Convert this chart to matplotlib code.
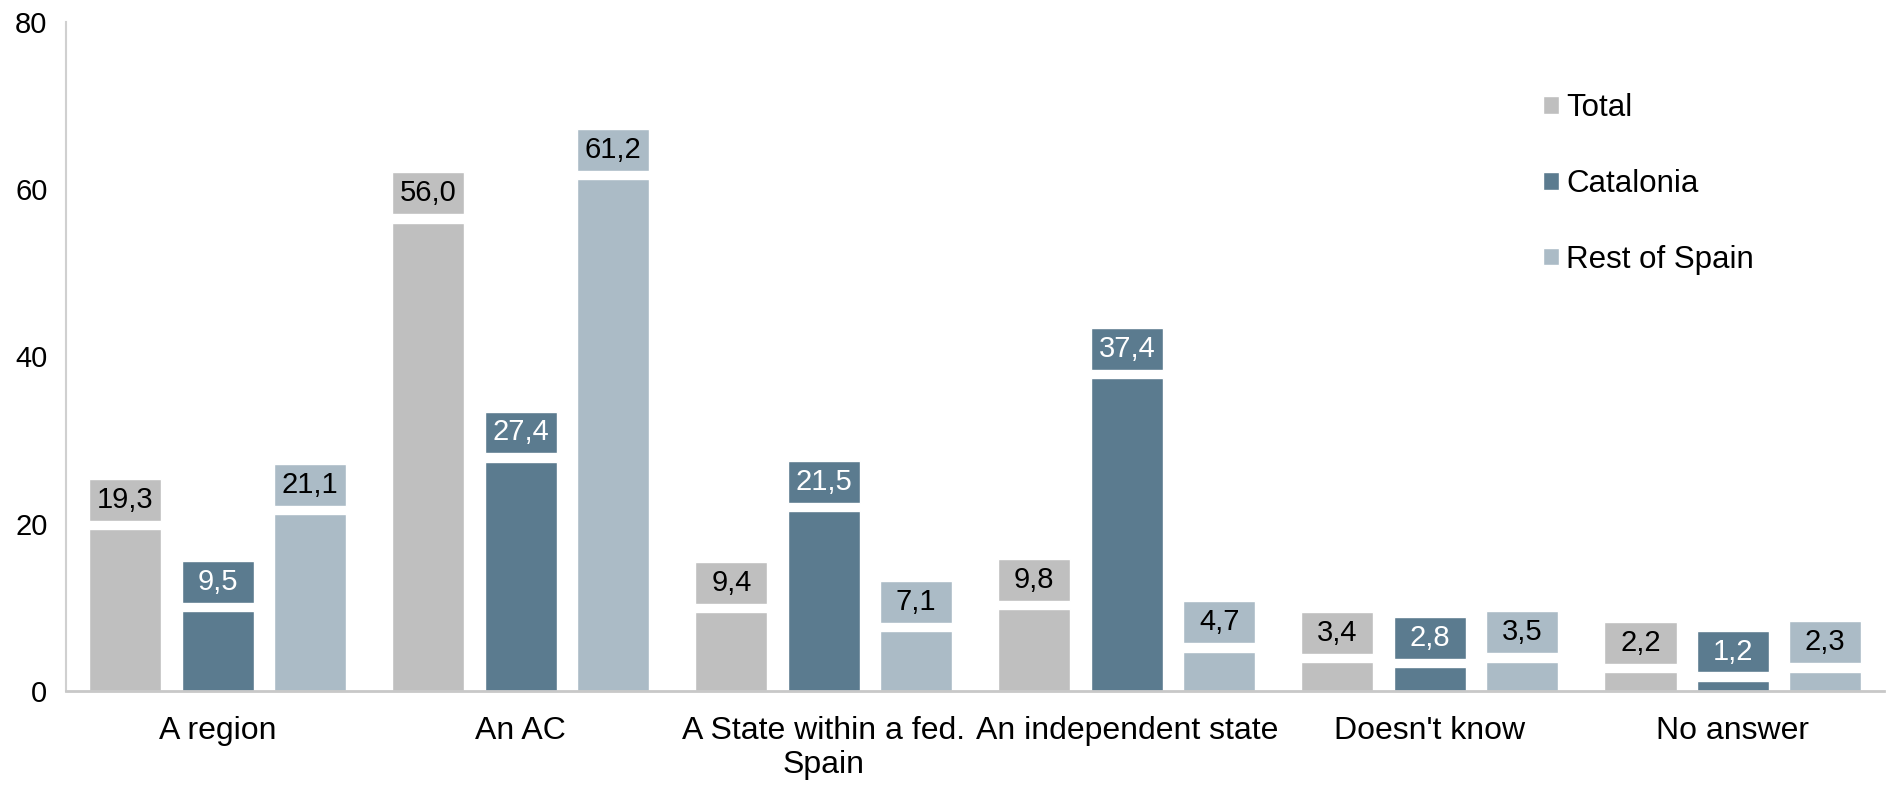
import matplotlib.pyplot as plt
import numpy as np

plt.rcParams['font.family'] = ['Liberation Sans', 'DejaVu Sans']

categories = ['A region', 'An AC', 'A State within a fed.\nSpain',
              'An independent state', "Doesn't know", 'No answer']
series = ['Total', 'Catalonia', 'Rest of Spain']
total = [19.3, 56.0, 9.4, 9.8, 3.4, 2.2]
catalonia = [9.5, 27.4, 21.5, 37.4, 2.8, 1.2]
rest = [21.1, 61.2, 7.1, 4.7, 3.5, 2.3]

colors = ['#BFBFBF', '#5B7B8F', '#ABBBC6']
text_colors = ['black', 'white', 'black']

fig = plt.figure(figsize=(18.91, 7.85), dpi=100)
ax = fig.add_axes([0.035, 0.12, 0.9615, 0.852])

x = np.arange(len(categories))
width = 0.238
step = 0.305
box_gap = 1.0
box_h = 5.0

for i, vals in enumerate([total, catalonia, rest]):
    xs = x + (i - 1) * step
    ax.bar(xs, vals, width, color=colors[i], edgecolor='white', linewidth=1,
           label=series[i], zorder=2)
    # label boxes above bars
    bottoms = np.array(vals) + box_gap
    ax.bar(xs, box_h, width, bottom=bottoms, color=colors[i],
           edgecolor='white', linewidth=1, zorder=2)
    for xx, v, b in zip(xs, vals, bottoms):
        ax.text(xx, b + box_h / 2, ('%.1f' % v).replace('.', ','),
                ha='center', va='center', fontsize=21, color=text_colors[i],
                zorder=3)

ax.set_xlim(-0.5, 5.5)
ax.set_ylim(0, 80)
ax.set_yticks([0, 20, 40, 60, 80])
ax.set_xticks(x)
ax.set_xticklabels(categories)
ax.tick_params(axis='both', length=0)
ax.tick_params(axis='x', pad=18, labelsize=23)
ax.tick_params(axis='y', pad=13.5, labelsize=21)

ax.spines['right'].set_color('none')
ax.spines['top'].set_color('none')
ax.spines['left'].set_color('#D0D0D0')
ax.spines['bottom'].set_color('#C8C8C8')
ax.spines['left'].set_linewidth(1.5)
ax.spines['bottom'].set_linewidth(2)

handles, labels = ax.get_legend_handles_labels()
leg = ax.legend(handles, labels, loc='upper left',
                bbox_to_anchor=(0.816, 0.881), bbox_transform=fig.transFigure,
                frameon=False, fontsize=22.5, handlelength=0.5, handleheight=0.5,
                handletextpad=0.25, labelspacing=1.46, borderpad=0,
                borderaxespad=0)

plt.savefig('out.png', dpi=100)
